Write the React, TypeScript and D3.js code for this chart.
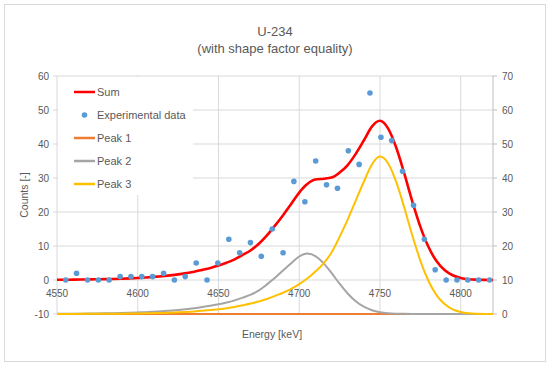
import React from "react";
import * as d3 from "d3";

// Experimental data (energy in keV, counts)
const expEnergy = [
  4555.4, 4562.1, 4568.9, 4575.6, 4582.3, 4589.1, 4595.8, 4602.5, 4609.2, 4616.0,
  4622.7, 4629.4, 4636.2, 4642.9, 4649.6, 4656.4, 4663.1, 4669.8, 4676.5, 4683.3,
  4690.0, 4696.7, 4703.5, 4710.2, 4716.9, 4723.7, 4730.4, 4737.1, 4743.8, 4750.6,
  4757.3, 4764.0, 4770.8, 4777.5, 4784.2, 4791.0, 4797.7, 4804.4, 4811.1, 4817.9,
];
const expCounts = [
  0, 2, 0, 0, 0, 1, 1, 1, 1, 2,
  0, 1, 5, 0, 5, 12, 8, 11, 7, 15,
  8, 29, 23, 35, 28, 27, 38, 34, 55, 42,
  41, 32, 22, 12, 3, 0, 0, 0, 0, 0,
];

// Fitted curves sampled every 5 keV
const curveEnergy = [
  4550, 4555, 4560, 4565, 4570, 4575, 4580, 4585, 4590, 4595,
  4600, 4605, 4610, 4615, 4620, 4625, 4630, 4635, 4640, 4645,
  4650, 4655, 4660, 4665, 4670, 4675, 4680, 4685, 4690, 4695,
  4700, 4705, 4710, 4715, 4720, 4725, 4730, 4735, 4740, 4745,
  4750, 4755, 4760, 4765, 4770, 4775, 4780, 4785, 4790, 4795,
  4800, 4805, 4810, 4815, 4820,
];
const sumValues = [
  0.07, 0.08, 0.11, 0.14, 0.17, 0.21, 0.26, 0.31, 0.38, 0.49,
  0.61, 0.74, 0.91, 1.12, 1.37, 1.66, 2.02, 2.43, 2.98, 3.56,
  4.24, 5.09, 6.08, 7.36, 8.76, 10.64, 13.12, 16.0, 19.07, 22.36,
  25.71, 28.22, 29.55, 29.79, 30.13, 31.59, 33.81, 37.10, 41.03, 45.11,
  46.83, 44.59, 39.03, 31.43, 23.16, 15.70, 9.77, 5.56, 2.92, 1.39,
  0.60, 0.23, 0.09, 0.03, 0.01,
];
const peak1Values = [
  0, 0, 0, 0, 0, 0, 0, 0, 0, 0,
  0, 0, 0, 0, 0, 0, 0, 0, 0, 0,
  0, 0, 0, 0, 0, 0, 0, 0, 0, 0,
  0, 0, 0, 0, 0, 0, 0, 0, 0, 0,
  0, 0, 0, 0, 0, 0, 0, 0, 0, 0,
  0, 0, 0, 0, 0,
];
const peak2Values = [
  0.05, 0.06, 0.08, 0.10, 0.12, 0.15, 0.19, 0.23, 0.28, 0.36,
  0.45, 0.53, 0.66, 0.80, 0.98, 1.17, 1.42, 1.69, 2.05, 2.40,
  2.85, 3.38, 4.0, 4.81, 5.70, 6.94, 8.72, 10.68, 12.82, 14.95,
  16.91, 17.8, 17.05, 14.97, 12.07, 8.9, 6.03, 3.76, 2.14, 1.12,
  0.53, 0.23, 0.09, 0.04, 0.01, 0, 0, 0, 0, 0,
  0, 0, 0, 0, 0,
];
const peak3Values = [
  0.02, 0.02, 0.03, 0.04, 0.05, 0.06, 0.07, 0.08, 0.10, 0.13,
  0.16, 0.21, 0.25, 0.32, 0.39, 0.49, 0.60, 0.74, 0.93, 1.16,
  1.39, 1.71, 2.08, 2.55, 3.06, 3.70, 4.40, 5.32, 6.25, 7.41,
  8.80, 10.42, 12.50, 14.82, 18.06, 22.69, 27.78, 33.34, 38.89, 43.99,
  46.3, 44.36, 38.94, 31.39, 23.15, 15.70, 9.77, 5.56, 2.92, 1.39,
  0.60, 0.23, 0.09, 0.03, 0.01,
];

const xTicks = [4550, 4600, 4650, 4700, 4750, 4800];
const yLeftTicks = [-10, 0, 10, 20, 30, 40, 50, 60];
const yRightTicks = [0, 10, 20, 30, 40, 50, 60, 70];

const legendItems = [
  { label: "Sum", color: "#ff0000", kind: "line" },
  { label: "Experimental data", color: "#5b9bd5", kind: "dot" },
  { label: "Peak 1", color: "#ed7d31", kind: "line" },
  { label: "Peak 2", color: "#a5a5a5", kind: "line" },
  { label: "Peak 3", color: "#ffc000", kind: "line" },
];

const FONT = "'Liberation Sans', Arial, sans-serif";
const TXT = "#595959";

export default function App() {
  const left = 57, right = 493, top = 76, bottom = 314;
  const x = d3.scaleLinear().domain([4550, 4820]).range([left, right]);
  const yL = d3.scaleLinear().domain([-10, 60]).range([bottom, top]);
  const yR = d3.scaleLinear().domain([0, 70]).range([bottom, top]);

  const mkLine = (vals: number[], y: d3.ScaleLinear<number, number>) =>
    d3
      .line<number>()
      .x((_, i) => x(curveEnergy[i]))
      .y((v) => y(v))
      .curve(d3.curveMonotoneX)(vals) as string;

  return (
    <svg
      width={550}
      height={367}
      style={{ position: "absolute", left: 0, top: 0, background: "#fff" }}
      fontFamily={FONT}
    >
      <rect x={4.5} y={4.5} width={541} height={357} fill="#fff" stroke="#d9d9d9" />
      <text x={275} y={36} textAnchor="middle" fontSize={13} fill={TXT}>U-234</text>
      <text x={275} y={53} textAnchor="middle" fontSize={13} fill={TXT}>
        (with shape factor equality)
      </text>

      {yLeftTicks.map((t) => (
        <line key={"h" + t} x1={left - 4} x2={right} y1={yL(t)} y2={yL(t)} stroke="#d9d9d9" strokeWidth={1} />
      ))}
      {xTicks.map((t) => (
        <line key={"v" + t} x1={x(t)} x2={x(t)} y1={top} y2={bottom} stroke="#d9d9d9" strokeWidth={1} />
      ))}
      <line x1={right} x2={right} y1={top} y2={bottom} stroke="#bfbfbf" strokeWidth={1} />
      {yRightTicks.map((t) => (
        <line key={"rt" + t} x1={right} x2={right + 4} y1={yR(t)} y2={yR(t)} stroke="#bfbfbf" />
      ))}

      {yLeftTicks.map((t) => (
        <text key={"yl" + t} x={49} y={yL(t) + 3.5} textAnchor="end" fontSize={10} fill={TXT}>{t}</text>
      ))}
      {yRightTicks.map((t) => (
        <text key={"yr" + t} x={502} y={yR(t) + 3.5} textAnchor="start" fontSize={10} fill={TXT}>{t}</text>
      ))}
      {xTicks.map((t) => (
        <text key={"xl" + t} x={x(t)} y={yL(0) + 17} textAnchor="middle" fontSize={10} fill={TXT}>{t}</text>
      ))}

      <text x={272} y={338} textAnchor="middle" fontSize={10.5} fill={TXT}>Energy [keV]</text>
      <text transform={`translate(28,195) rotate(-90)`} textAnchor="middle" fontSize={10.5} fill={TXT}>
        Counts [-]
      </text>

      <path d={mkLine(sumValues, yL)} fill="none" stroke="#ff0000" strokeWidth={2.6} />
      {expEnergy.map((e, i) => (
        <circle key={"p" + i} cx={x(e)} cy={yL(expCounts[i])} r={2.8} fill="#5b9bd5" />
      ))}
      <path d={mkLine(peak1Values, yR)} fill="none" stroke="#ed7d31" strokeWidth={2} />
      <path d={mkLine(peak2Values, yR)} fill="none" stroke="#a5a5a5" strokeWidth={2} />
      <path d={mkLine(peak3Values, yR)} fill="none" stroke="#ffc000" strokeWidth={2} />

      <rect x={58} y={77} width={135} height={118} fill="#fff" />
      {legendItems.map((it, i) => {
        const cy = 92 + i * 23;
        return (
          <g key={it.label}>
            {it.kind === "line" ? (
              <line x1={74} x2={95} y1={cy} y2={cy} stroke={it.color} strokeWidth={2.5} />
            ) : (
              <circle cx={84.5} cy={cy} r={2.8} fill={it.color} />
            )}
            <text x={97} y={cy + 4} fontSize={11} fill={TXT}>{it.label}</text>
          </g>
        );
      })}
    </svg>
  );
}
